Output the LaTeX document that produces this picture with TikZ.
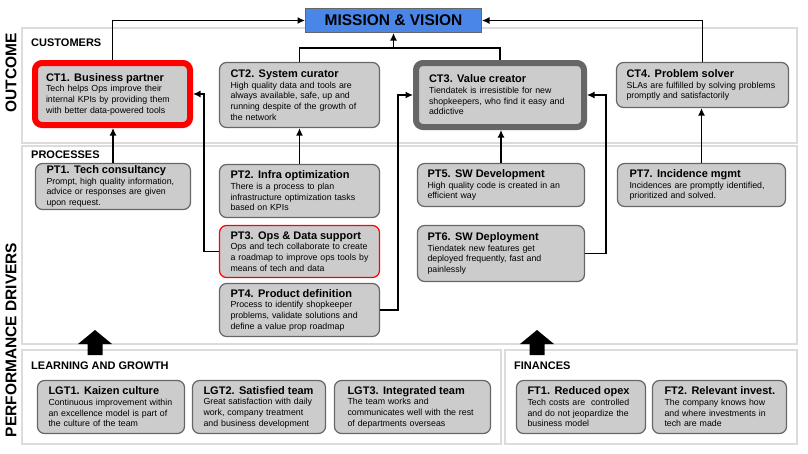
\documentclass[tikz,border=0pt]{standalone}
\usepackage{fontspec}
\setmainfont{Liberation Sans}
\usetikzlibrary{arrows.meta}

\definecolor{boxgray}{HTML}{CCCCCC}
\definecolor{linegray}{HTML}{666666}
\definecolor{panelgray}{HTML}{DCDCDC}
\definecolor{missionblue}{HTML}{4A86E8}

\newcommand{\kt}[1]{\mbox{\fontsize{11}{12}\selectfont\bfseries #1}}

\begin{document}
\begin{tikzpicture}[x=1pt, y=-1pt, >={Latex[length=7.5pt,width=7pt]},
  kpi/.style={draw=linegray, fill=boxgray, line width=1.2pt, rounded corners=7pt,
    align=left, inner xsep=11pt, inner ysep=2pt, font=\fontsize{8.8}{10.7}\selectfont},
  panel/.style={draw=panelgray, line width=1.5pt},
  sect/.style={anchor=base west, inner sep=0pt, font=\fontsize{11}{13}\selectfont\bfseries},
  side/.style={rotate=90, inner sep=0pt, font=\fontsize{15.5}{18}\selectfont\bfseries},
  conn/.style={line width=1.4pt}]
\useasboundingbox (0,0) rectangle (808,453);

% panels
\draw[panel] (22,28) rectangle (797,143);
\draw[panel] (22,146) rectangle (797,344);
\draw[panel] (22,350) rectangle (501,444);
\draw[panel] (505,350) rectangle (797,444);

\node[side] (outcome) at (11,73) {OUTCOME};
\node[side] (drivers) at (11,340) {PERFORMANCE DRIVERS};

\node[sect] (customers) at (31,46) {CUSTOMERS};
\node[sect] (processes) at (31,158) {PROCESSES};
\node[sect] (learning) at (31,369) {LEARNING AND GROWTH};
\node[sect] (finances) at (514,369) {FINANCES};

\node[draw=linegray, fill=missionblue, line width=1pt, minimum width=176pt, minimum height=24pt,
  font=\fontsize{15.5}{18}\selectfont\bfseries] (mission) at (393.5,20.5) {MISSION \& VISION};

% customers
\node[kpi, draw=red, line width=6pt, text width=133pt, minimum height=62pt] (ct1) at (112.5,94)
  {\kt{CT1. Business partner}\\Tech helps Ops improve their\\internal KPIs by providing them\\with better data-powered tools};
\node[kpi, text width=138pt, minimum height=65pt] (ct2) at (299.5,95)
  {\kt{CT2. System curator}\\High quality data and tools are\\always available, safe, up and\\running despite of the growth of\\the network};
\node[kpi, line width=6pt, inner xsep=13pt, text width=142pt, minimum height=64pt] (ct3) at (500,95)
  {\kt{CT3. Value creator}\\Tiendatek is irresistible for new\\shopkeepers, who find it easy and\\addictive};
\node[kpi, inner xsep=10pt, text width=152pt, minimum height=45pt] (ct4) at (702.5,85)
  {\kt{CT4. Problem solver}\\SLAs are fulfilled by solving problems\\promptly and satisfactorily};

% processes
\node[kpi, text width=133pt, minimum height=46pt] (pt1) at (113,186.5)
  {\kt{PT1. Tech consultancy}\\Prompt, high quality information,\\advice or responses are given\\upon request.};
\node[kpi, text width=138pt, minimum height=53pt] (pt2) at (299.5,191)
  {\kt{PT2. Infra optimization}\\There is a process to plan\\infrastructure optimization tasks\\based on KPIs};
\node[kpi, draw=red, text width=138pt, minimum height=52pt] (pt3) at (299.5,251.5)
  {\kt{PT3. Ops \& Data support}\\Ops and tech collaborate to create\\a roadmap to improve ops tools by\\means of tech and data};
\node[kpi, text width=138pt, minimum height=53pt] (pt4) at (299.5,310)
  {\kt{PT4. Product definition}\\Process to identify shopkeeper\\problems, validate solutions and\\define a value prop roadmap};
\node[kpi, inner xsep=10pt, text width=147pt, minimum height=43pt] (pt5) at (501,185)
  {\kt{PT5. SW Development}\\High quality code is created in an\\efficient way};
\node[kpi, inner xsep=10pt, text width=147pt, minimum height=56pt] (pt6) at (501,253.5)
  {\kt{PT6. SW Deployment}\\Tiendatek new features get\\deployed frequently, fast and\\painlessly};
\node[kpi, inner xsep=12pt, text width=144pt, minimum height=43pt] (pt7) at (701.5,185)
  {\kt{PT7. Incidence mgmt}\\Incidences are promptly identified,\\prioritized and solved.};

% learning and growth, finances
\node[kpi, text width=125pt, minimum height=53pt] (lgt1) at (111,407)
  {\kt{LGT1. Kaizen culture}\\Continuous improvement within\\an excellence model is part of\\the culture of the team};
\node[kpi, text width=111pt, minimum height=53pt] (lgt2) at (259,407)
  {\kt{LGT2. Satisfied team}\\Great satisfaction with daily\\work, company treatment\\and business development};
\node[kpi, inner xsep=13pt, text width=130pt, minimum height=53pt] (lgt3) at (412.5,407)
  {\kt{LGT3. Integrated team}\\The team works and\\communicates well with the rest\\of departments overseas};
\node[kpi, text width=107pt, minimum height=53pt] (ft1) at (581,407)
  {\kt{FT1. Reduced opex}\\Tech costs are\ \ controlled\\and do not jeopardize the\\business model};
\node[kpi, inner xsep=12pt, text width=110pt, minimum height=53pt] (ft2) at (719.5,407)
  {\kt{FT2. Relevant invest.}\\The company knows how\\and where investments in\\tech are made};

% connectors
\draw[conn,->] (ct1.north) |- (mission.west);
\draw[conn,->] (ct4.north) |- (mission.east);
\coordinate (bus) at (mission.south |- 0,48);
\draw[conn] (ct2.north) |- (ct3.north |- bus) -- (ct3.north);
\draw[conn,->] (bus) -- (mission.south);

\draw[conn,->] (pt1.north) -- (pt1.north |- ct1.south);
\draw[conn,->] (pt3.west) -- ++(-15,0) |- (ct1.east);
\draw[conn,->] (pt2.north) -- (pt2.north |- ct2.south);
\draw[conn,->] (pt4.east) -- ++(18,0) |- (ct3.west);
\draw[conn,->] (pt5.north) -- (pt5.north |- ct3.south);
\draw[conn,->] (pt6.east) -- ++(21,0) |- (ct3.east);
\draw[conn,->] (pt7.north) -- (pt7.north |- ct4.south);

% block arrows
\fill (95,330) -- ++(17,14) -- ++(-9.5,0) -- ++(0,11) -- ++(-15,0) -- ++(0,-11) -- ++(-9.5,0) -- cycle;
\fill (537,330) -- ++(17,14) -- ++(-9.5,0) -- ++(0,11) -- ++(-15,0) -- ++(0,-11) -- ++(-9.5,0) -- cycle;

\end{tikzpicture}
\end{document}
